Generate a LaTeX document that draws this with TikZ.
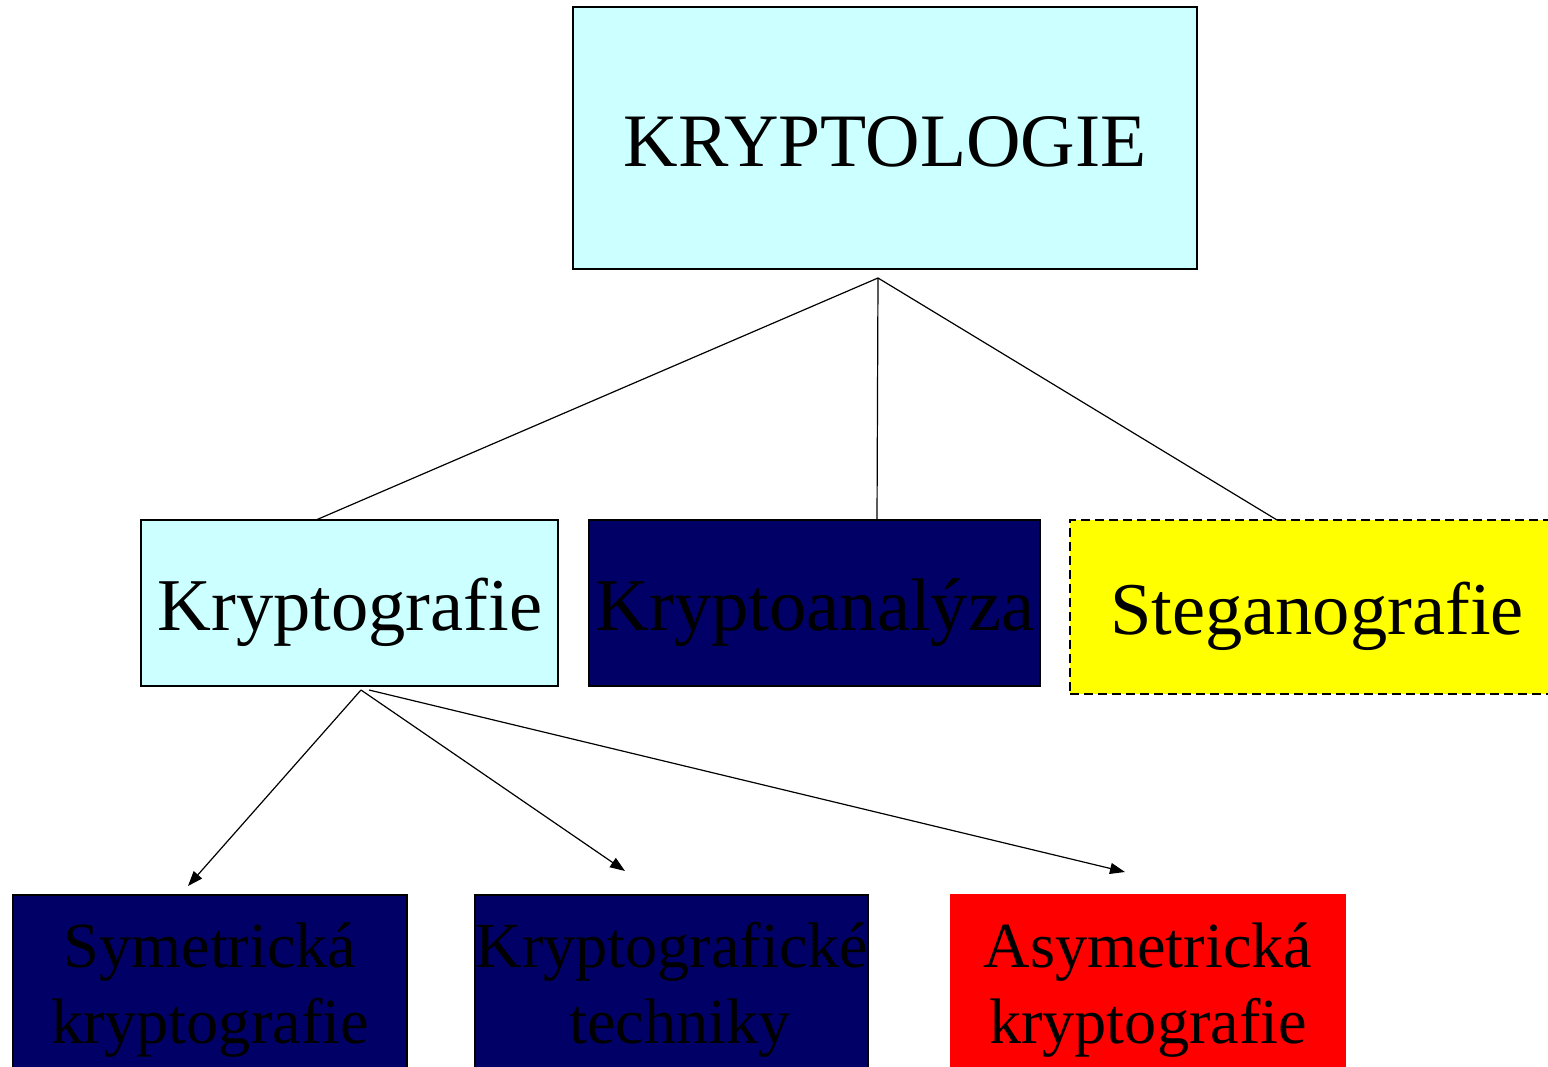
\documentclass[tikz,border=0pt]{standalone}
\usepackage{fontspec}
\setmainfont{Liberation Serif}
\usetikzlibrary{arrows.meta,calc}
\definecolor{lcyan}{HTML}{CCFFFF}
\definecolor{navy}{HTML}{000066}
\definecolor{yel}{HTML}{FFFF00}
\definecolor{rd}{HTML}{FF0000}
\tikzset{
  box/.style={rectangle, draw=black, line width=1.2pt, inner sep=0pt, outer sep=0pt},
  big/.style={anchor=base, inner sep=0pt, font=\fontsize{74.5}{80}\selectfont},
  top/.style={anchor=base, inner sep=0pt, font=\fontsize{75.5}{80}\selectfont},
  small/.style={anchor=base, inner sep=0pt, font=\fontsize{64.3}{75}\selectfont},
  link/.style={line width=1.2pt},
  arr/.style={line width=1.2pt, -{Triangle[length=15pt,width=11pt]}}
}
\begin{document}
\begin{tikzpicture}[x=1pt,y=-1pt]
\clip (0,0) rectangle (1548,1067);
\fill[white] (0,0) rectangle (1548,1067);
% boxes
\node[box, fill=lcyan, minimum width=624pt, minimum height=262pt] (kl) at (885,138) {};
\node[box, fill=lcyan, minimum width=417pt, minimum height=166pt] (kg) at (349.5,603) {};
\node[box, fill=navy, minimum width=451pt, minimum height=166pt] (ka) at (814.5,603) {};
\node[box, fill=yel, dashed, dash pattern=on 9pt off 5pt, minimum width=490pt, minimum height=174pt] (st) at (1315,607) {};
\node[box, fill=navy, minimum width=394pt, minimum height=185pt] (sy) at (210,987.5) {};
\node[box, fill=navy, minimum width=393pt, minimum height=185pt] (kt) at (671.5,987.5) {};
\node[box, fill=rd, draw=rd, minimum width=394pt, minimum height=185pt] (as) at (1148,987.5) {};
% texts
\node[top] (tkl) at (885,167) {KRYPTOLOGIE};
\node[big] (tkg) at (350,630) {Kryptografie};
\node[big] (tka) at (815,630) {Kryptoanalýza};
\node[big] (tst) at (1317,634) {Steganografie};
\node[small] (tsy1) at (210,967) {Symetrická};
\node[small] (tsy2) at (210,1043) {kryptografie};
\node[small] (tkt1) at (672,967) {Kryptografické};
\node[small] (tkt2) at (680,1043) {techniky};
\node[small] (tas1) at (1148,967) {Asymetrická};
\node[small] (tas2) at (1148,1043) {kryptografie};
% hub points
\coordinate (hub) at ($(kl.south)+(-7,9)$);
\coordinate (hub2) at ($(kg.south)+(11.5,4)$);
\coordinate (hub3) at ($(kg.south)+(19.5,4)$);
\coordinate (e1) at (188,886);
\coordinate (e2) at (625,871);
\coordinate (e3) at (1125,872);
% connectors
\draw[link] (hub) -- ($(kg.north)+(-33.5,0)$);
\draw[link] (hub) -- ($(ka.north)+(62.5,0)$);
\draw[link] (hub) -- ($(st.north)+(-38,0)$);
\draw[arr] (hub2) -- (e1);
\draw[arr] (hub2) -- (e2);
\draw[arr] (hub3) -- (e3);
\end{tikzpicture}
\end{document}
